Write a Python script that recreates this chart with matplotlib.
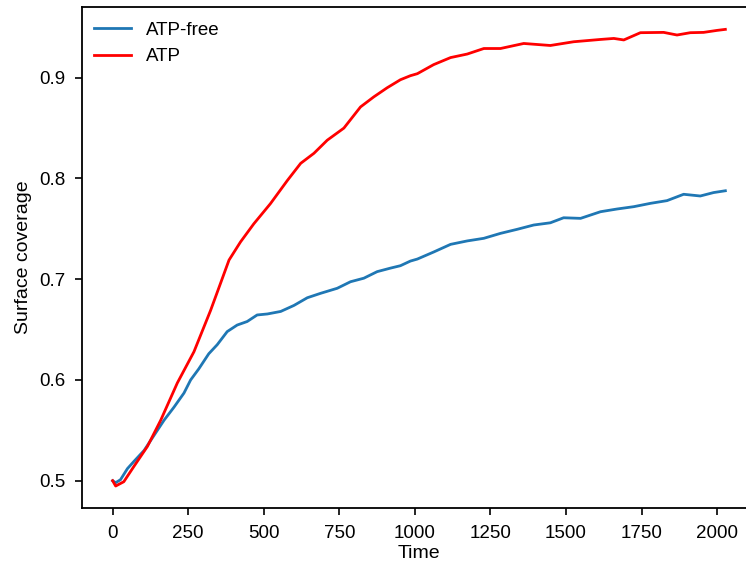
import matplotlib
matplotlib.use('Agg')
import matplotlib.pyplot as plt
import numpy as np

plt.rcParams['font.family'] = ['Liberation Sans', 'DejaVu Sans']

# ATP-free run
t_free = [0, 10, 26, 49, 70, 104, 137, 170, 203, 236, 258, 285, 318, 346, 379, 412,
          445, 478, 512, 556, 600, 644, 688, 743, 787, 831, 875, 919, 952, 985, 1008,
          1062, 1118, 1173, 1228, 1283, 1338, 1393, 1448, 1492, 1548, 1614, 1669, 1724,
          1779, 1834, 1889, 1944, 1988, 2027]
cov_free = [0.500, 0.498, 0.501, 0.512, 0.519, 0.530, 0.545, 0.560, 0.573, 0.587, 0.600,
            0.611, 0.626, 0.635, 0.648, 0.6545, 0.658, 0.6645, 0.6655, 0.668, 0.674,
            0.6816, 0.686, 0.691, 0.6975, 0.701, 0.7075, 0.711, 0.7134, 0.718, 0.720,
            0.727, 0.7346, 0.738, 0.7406, 0.7455, 0.7495, 0.7538, 0.756, 0.761, 0.7604,
            0.767, 0.7697, 0.772, 0.7753, 0.778, 0.7843, 0.7826, 0.786, 0.7878]

# ATP run
t_atp = [0, 10, 37, 70, 115, 159, 214, 269, 324, 357, 385, 423, 467, 522, 578, 622, 666,
         710, 765, 820, 864, 908, 952, 985, 1008, 1062, 1118, 1173, 1228, 1283, 1360,
         1448, 1525, 1614, 1658, 1691, 1746, 1823, 1867, 1911, 1955, 2000, 2027]
cov_atp = [0.500, 0.4947, 0.499, 0.514, 0.534, 0.560, 0.597, 0.628, 0.669, 0.696, 0.719,
           0.737, 0.755, 0.775, 0.798, 0.815, 0.825, 0.838, 0.850, 0.871, 0.881, 0.890,
           0.898, 0.902, 0.904, 0.913, 0.920, 0.9235, 0.929, 0.929, 0.934, 0.932, 0.9357,
           0.938, 0.939, 0.9375, 0.9447, 0.945, 0.9424, 0.9447, 0.945, 0.947, 0.948]

fig = plt.figure(figsize=(7.46, 5.67), dpi=100)
# right spine falls just outside the picture, as in the cropped original
ax = fig.add_axes([82/746, 58.7/567, 674/746, 501.6/567])

ax.plot(t_free, cov_free, color='#1f77b4', lw=2, label='ATP-free')
ax.plot(t_atp, cov_atp, color='red', lw=2, label='ATP')

ax.set_xlim(-101.35, 2128.35)
ax.set_ylim(0.4726, 0.9705)
ax.set_xticks(np.arange(0, 2001, 250))
ax.set_yticks([0.5, 0.6, 0.7, 0.8, 0.9])
ax.tick_params(labelsize=13.5, length=5, width=1.2, pad=7)
for s in ax.spines.values():
    s.set_linewidth(1.3)

ax.set_xlabel('Time', fontsize=14, labelpad=2)
ax.set_ylabel('Surface coverage', fontsize=14, labelpad=5)
ax.legend(loc='upper left', frameon=False, fontsize=13.5,
          bbox_to_anchor=(-0.0074, 1.004))

fig.savefig('out.png', dpi=100)
